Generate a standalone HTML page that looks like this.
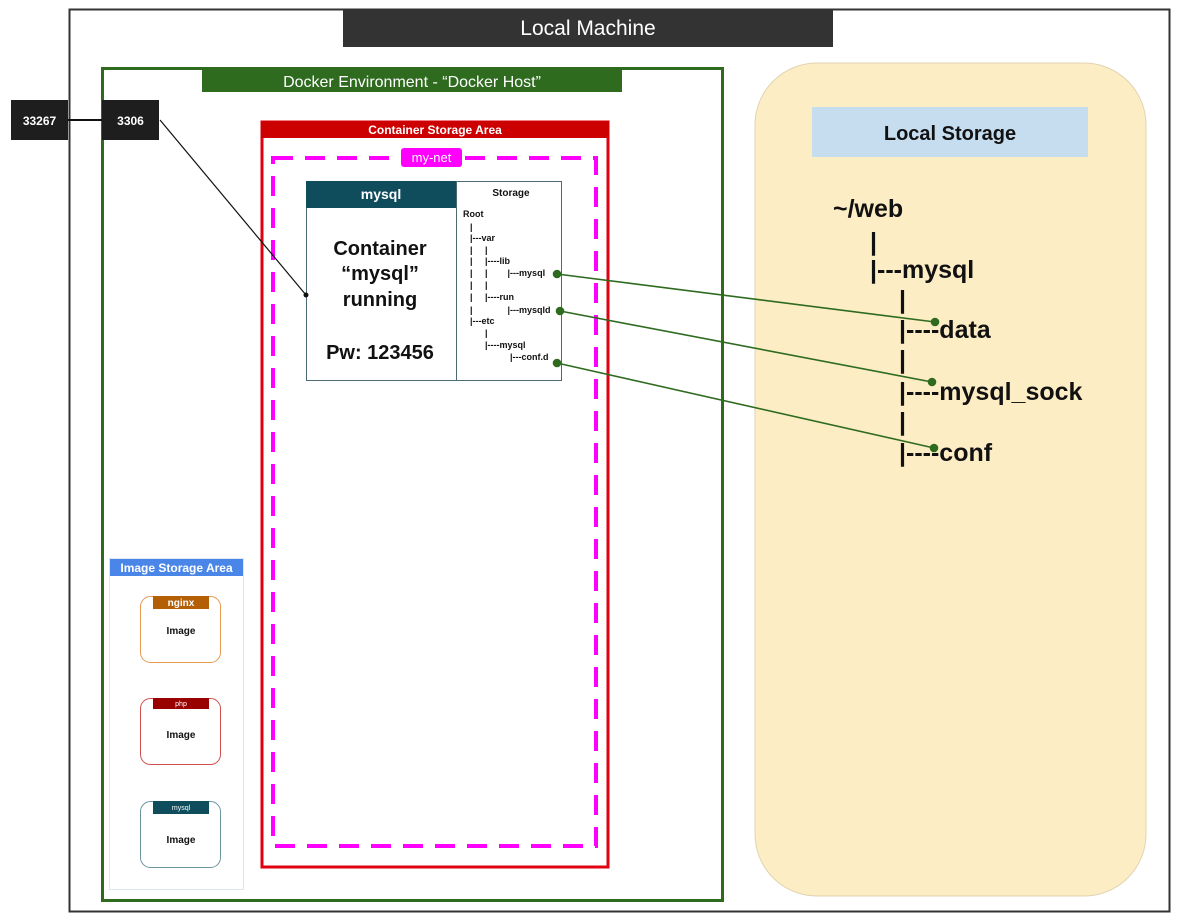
<!DOCTYPE html>
<html><head><meta charset="utf-8"><style>
html,body{margin:0;padding:0;background:#fff;}
svg{display:block;font-family:"Liberation Sans",sans-serif;}
</style></head><body>
<svg width="1181" height="917" viewBox="0 0 1181 917" xmlns="http://www.w3.org/2000/svg">
<rect x="0" y="0" width="1181" height="917" fill="#fff"/>
<rect x="69.5" y="9.5" width="1100" height="902" fill="#fff" stroke="#333" stroke-width="2"/>
<rect x="343" y="9" width="490" height="38" fill="#333"/>
<text x="588" y="35" fill="#fff" font-size="21" text-anchor="middle">Local Machine</text>

<rect x="755" y="63" width="391" height="833" rx="62" fill="#fdedc5" stroke="#e0d4b0" stroke-width="1"/>
<rect x="812" y="107" width="276" height="50" fill="#c6dcef"/>
<text x="950" y="140" font-size="20" font-weight="bold" text-anchor="middle" fill="#111">Local Storage</text>
<g font-size="25" font-weight="bold" fill="#111">
<text x="833" y="217">~/web</text>
<text x="870" y="250">|</text>
<text x="870" y="278">|---mysql</text>
<text x="899" y="308">|</text>
<text x="899" y="338">|----data</text>
<text x="899" y="368">|</text>
<text x="899" y="400">|----mysql_sock</text>
<text x="899" y="430">|</text>
<text x="899" y="461">|----conf</text>
</g>

<rect x="102.5" y="68.5" width="620" height="832" fill="none" stroke="#2e6b1f" stroke-width="3"/>
<rect x="202" y="70" width="420" height="22" fill="#2e6b1f"/>
<text x="412" y="87" fill="#fff" font-size="16" text-anchor="middle">Docker Environment - “Docker Host”</text>

<rect x="262" y="122" width="346" height="745" fill="#fff" stroke="#e00010" stroke-width="3"/>
<rect x="261" y="121" width="348" height="17" fill="#cc0000"/>
<text x="435" y="134" fill="#fff" font-size="12" font-weight="bold" text-anchor="middle">Container Storage Area</text>
<rect x="273" y="158" width="323" height="688" fill="none" stroke="#ff00ff" stroke-width="4" stroke-dasharray="20 12"/>
<rect x="401" y="148" width="61" height="19" rx="3" fill="#ff00ff"/>
<text x="431.5" y="162" fill="#fff" font-size="13" text-anchor="middle">my-net</text>

<rect x="306.5" y="181.5" width="255" height="199" fill="#fff" stroke="#4a6a75" stroke-width="1"/>
<rect x="306" y="181" width="150" height="27" fill="#0f4c5c"/>
<line x1="456.5" y1="181" x2="456.5" y2="381" stroke="#4a6a75"/>
<text x="381" y="199" fill="#fff" font-size="14" font-weight="bold" text-anchor="middle">mysql</text>
<g font-size="20" font-weight="bold" fill="#111" text-anchor="middle">
<text x="380" y="255">Container</text>
<text x="380" y="280">“mysql”</text>
<text x="380" y="306">running</text>
<text x="380" y="359">Pw: 123456</text>
</g>
<g font-size="9" font-weight="bold" fill="#111">
<text x="511" y="196" text-anchor="middle" font-size="10">Storage</text>
<text x="463" y="217">Root</text>
<text x="470" y="230">|</text>
<text x="470" y="241">|---var</text>
<text x="470" y="253">|&#160;&#160;&#160;&#160;&#160;|</text>
<text x="470" y="264">|&#160;&#160;&#160;&#160;&#160;|----lib</text>
<text x="470" y="276">|&#160;&#160;&#160;&#160;&#160;|&#160;&#160;&#160;&#160;&#160;&#160;&#160;&#160;|---mysql</text>
<text x="470" y="288">|&#160;&#160;&#160;&#160;&#160;|</text>
<text x="470" y="300">|&#160;&#160;&#160;&#160;&#160;|----run</text>
<text x="470" y="313">|&#160;&#160;&#160;&#160;&#160;&#160;&#160;&#160;&#160;&#160;&#160;&#160;&#160;&#160;|---mysqld</text>
<text x="470" y="324">|---etc</text>
<text x="470" y="336">&#160;&#160;&#160;&#160;&#160;&#160;|</text>
<text x="470" y="348">&#160;&#160;&#160;&#160;&#160;&#160;|----mysql</text>
<text x="470" y="360">&#160;&#160;&#160;&#160;&#160;&#160;&#160;&#160;&#160;&#160;&#160;&#160;&#160;&#160;&#160;&#160;|---conf.d</text>
</g>

<g stroke="#2e6b1f" stroke-width="1.6" fill="#2e6b1f">
<line x1="557" y1="274" x2="935" y2="322"/>
<line x1="560" y1="311" x2="932" y2="382"/>
<line x1="557" y1="363" x2="934" y2="448"/>
<circle cx="557" cy="274" r="3.5"/><circle cx="935" cy="322" r="3.5"/>
<circle cx="560" cy="311" r="3.5"/><circle cx="932" cy="382" r="3.5"/>
<circle cx="557" cy="363" r="3.5"/><circle cx="934" cy="448" r="3.5"/>
</g>

<rect x="109.5" y="558.5" width="134" height="331" fill="#fff" stroke="#dde6f3" stroke-width="1"/>
<rect x="110" y="559" width="133" height="17" fill="#4a86e8"/>
<text x="176.5" y="572" fill="#fff" font-size="12" font-weight="bold" text-anchor="middle">Image Storage Area</text>
<rect x="140.5" y="596.5" width="80" height="66" rx="10" fill="#fff" stroke="#e69a50"/>
<rect x="153" y="596" width="56" height="13" fill="#b45f06"/>
<text x="181" y="606" fill="#fff" font-size="10" font-weight="bold" text-anchor="middle">nginx</text>
<text x="181" y="634" font-size="10" font-weight="bold" text-anchor="middle" fill="#111">Image</text>
<rect x="140.5" y="698.5" width="80" height="66" rx="10" fill="#fff" stroke="#d05050"/>
<rect x="153" y="698" width="56" height="11" fill="#990000"/>
<text x="181" y="706" fill="#fff" font-size="7" text-anchor="middle">php</text>
<text x="181" y="738" font-size="10" font-weight="bold" text-anchor="middle" fill="#111">Image</text>
<rect x="140.5" y="801.5" width="80" height="66" rx="10" fill="#fff" stroke="#6a96a0"/>
<rect x="153" y="801" width="56" height="13" fill="#0f4c5c"/>
<text x="181" y="810" fill="#fff" font-size="7" text-anchor="middle">mysql</text>
<text x="181" y="843" font-size="10" font-weight="bold" text-anchor="middle" fill="#111">Image</text>

<line x1="68" y1="120" x2="102" y2="120" stroke="#111" stroke-width="2"/>
<rect x="11" y="100" width="57" height="40" fill="#1e1e1e"/>
<text x="39.5" y="125" fill="#fff" font-size="12" font-weight="bold" text-anchor="middle">33267</text>
<rect x="102" y="100" width="57" height="40" fill="#1e1e1e"/>
<text x="130.5" y="125" fill="#fff" font-size="12" font-weight="bold" text-anchor="middle">3306</text>
<line x1="160" y1="120" x2="306" y2="295" stroke="#111" stroke-width="1.2"/>
<circle cx="306" cy="295" r="2.5" fill="#111"/>
</svg>
</body></html>
